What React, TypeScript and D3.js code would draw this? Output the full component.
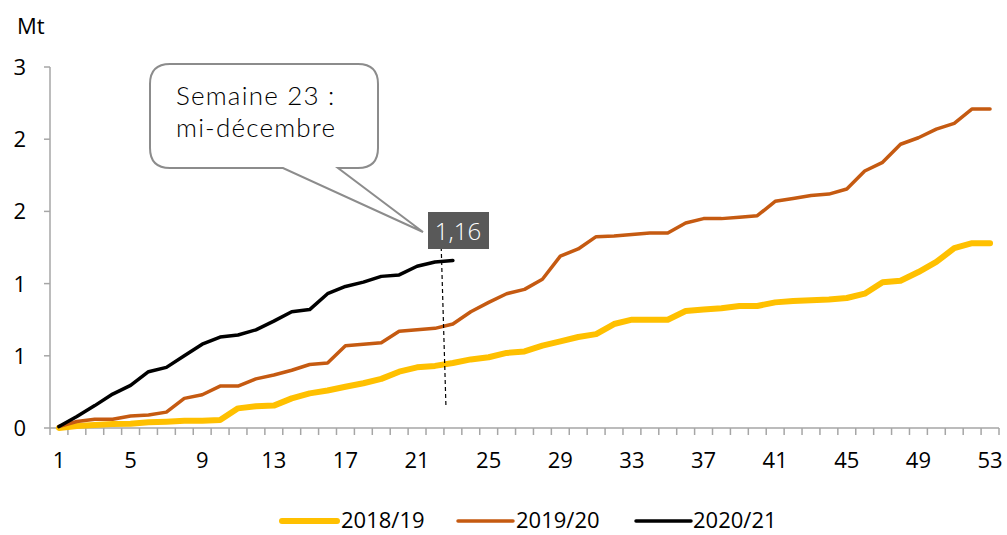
import React from 'react';
import * as d3 from 'd3';

// weekly cumulative exports, Mt
const weeks = d3.range(1, 54);
const weekLabels = [1, 5, 9, 13, 17, 21, 25, 29, 33, 37, 41, 45, 49, 53];
const yTicks = [0, 0.5, 1, 1.5, 2, 2.5];

const s1819 = [
  0.0, 0.014, 0.02, 0.028, 0.03, 0.04, 0.044, 0.05, 0.05, 0.055,
  0.136, 0.15, 0.155, 0.205, 0.24, 0.26, 0.286, 0.31, 0.34, 0.39,
  0.42, 0.43, 0.45, 0.475, 0.49, 0.52, 0.53, 0.57, 0.6, 0.63,
  0.65, 0.72, 0.75, 0.75, 0.75, 0.81, 0.82, 0.83, 0.845, 0.845,
  0.87, 0.88, 0.885, 0.89, 0.9, 0.93, 1.01, 1.02, 1.08, 1.15,
  1.245, 1.28, 1.28,
];
const s1920 = [
  0.01, 0.045, 0.06, 0.06, 0.083, 0.09, 0.11, 0.205, 0.23, 0.29,
  0.29, 0.34, 0.367, 0.4, 0.44, 0.45, 0.57, 0.58, 0.59, 0.67,
  0.68, 0.69, 0.72, 0.805, 0.87, 0.93, 0.96, 1.03, 1.19, 1.24,
  1.325, 1.33, 1.34, 1.35, 1.35, 1.42, 1.45, 1.45, 1.46, 1.47,
  1.57, 1.59, 1.61, 1.62, 1.655, 1.78, 1.84, 1.965, 2.01, 2.07,
  2.11, 2.21, 2.21,
];
const s2021 = [
  0.01, 0.08, 0.155, 0.235, 0.295, 0.39, 0.42, 0.5, 0.58, 0.63,
  0.644, 0.68, 0.74, 0.805, 0.82, 0.93, 0.98, 1.01, 1.05, 1.06,
  1.12, 1.15, 1.16,
];

const series = [
  { name: '2018/19', values: s1819, color: '#FFC000', width: 6 },
  { name: '2019/20', values: s1920, color: '#C55A11', width: 3.5 },
  { name: '2020/21', values: s2021, color: '#000000', width: 3.5 },
];

const calloutLines = ['Semaine 23 :', 'mi-décembre'];
const lastLabel = '1,16';

const W = 1007;
const H = 535;
const FONT = "'Open Sans', 'DejaVu Sans', sans-serif";

const App: React.FC = () => {
  const x = d3.scaleLinear().domain([0.5, 53.5]).range([50, 999]);
  const y = d3.scaleLinear().domain([0, 2.5]).range([428, 67]);
  const axisColor = '#A6A6A6';

  const line = d3
    .line<number>()
    .x((_, i) => x(weeks[i]))
    .y((d) => y(d));

  // callout bubble, tail pointing at the value box
  const bx0 = 150, by0 = 64, bx1 = 378, by1 = 168, r = 20;
  const tailA = 283, tailB = 338, tip = [423, 232];
  const bubble = [
    `M${bx0 + r},${by0}`,
    `H${bx1 - r}`,
    `Q${bx1},${by0} ${bx1},${by0 + r}`,
    `V${by1 - r}`,
    `Q${bx1},${by1} ${bx1 - r},${by1}`,
    `H${tailB}`,
    `L${tip[0]},${tip[1]}`,
    `L${tailA},${by1}`,
    `H${bx0 + r}`,
    `Q${bx0},${by1} ${bx0},${by1 - r}`,
    `V${by0 + r}`,
    `Q${bx0},${by0} ${bx0 + r},${by0}`,
    'Z',
  ].join(' ');

  const legendItems = [
    { x: 282, textX: 341 },
    { x: 458, textX: 516 },
    { x: 636, textX: 693 },
  ];

  return (
    <svg
      width={W}
      height={H}
      style={{ position: 'absolute', left: 0, top: 0, background: '#fff' }}
      fontFamily={FONT}
    >
      <text x={17} y={34} fontSize={22} fill="#000">Mt</text>

      {/* y axis */}
      <line x1={50} x2={50} y1={y(2.5)} y2={y(0)} stroke={axisColor} strokeWidth={1.5} />
      {yTicks.map((t) => (
        <g key={t}>
          <line x1={44} x2={50} y1={y(t)} y2={y(t)} stroke={axisColor} strokeWidth={1.5} />
          <text x={26} y={y(t)} dy="0.36em" textAnchor="end" fontSize={22} fill="#000">
            {Math.round(t)}
          </text>
        </g>
      ))}

      {/* x axis */}
      <line x1={50} x2={x(53.5)} y1={y(0)} y2={y(0)} stroke={axisColor} strokeWidth={1.5} />
      {d3.range(0, 54).map((i) => (
        <line
          key={i}
          x1={x(i + 0.5)}
          x2={x(i + 0.5)}
          y1={y(0)}
          y2={y(0) + 7}
          stroke={axisColor}
          strokeWidth={1.5}
        />
      ))}
      {weekLabels.map((w) => (
        <text key={w} x={x(w)} y={y(0) + 40} textAnchor="middle" fontSize={22} fill="#000">
          {w}
        </text>
      ))}

      {/* series */}
      {series.map((s) => (
        <path
          key={s.name}
          d={line(s.values) || ''}
          fill="none"
          stroke={s.color}
          strokeWidth={s.width}
          strokeLinejoin="round"
          strokeLinecap="round"
        />
      ))}

      {/* dashed marker at week 23 */}
      <line x1={441} y1={240} x2={446} y2={408} stroke="#000" strokeWidth={1.2} strokeDasharray="4 3" />
      <rect x={428} y={212} width={61} height={37} fill="#595959" />
      <text x={458} y={240} textAnchor="middle" fontSize={24} fontWeight={300} fill="#fff">
        {lastLabel}
      </text>

      {/* callout */}
      <path d={bubble} fill="#fff" stroke="#8C8C8C" strokeWidth={2} />
      {calloutLines.map((t, i) => (
        <text
          key={t}
          x={176}
          y={105 + i * 32}
          fontSize={26}
          fontWeight={300}
          fontFamily="Lato, 'Open Sans', sans-serif"
          letterSpacing={1.2}
          fill="#000"
        >
          {t}
        </text>
      ))}

      {/* legend */}
      {series.map((s, i) => (
        <g key={s.name}>
          <line
            x1={legendItems[i].x}
            x2={legendItems[i].x + 55}
            y1={521}
            y2={521}
            stroke={s.color}
            strokeWidth={s.width}
            strokeLinecap="round"
          />
          <text x={legendItems[i].textX} y={528} fontSize={22} fill="#000">
            {s.name}
          </text>
        </g>
      ))}
    </svg>
  );
};

export default App;
